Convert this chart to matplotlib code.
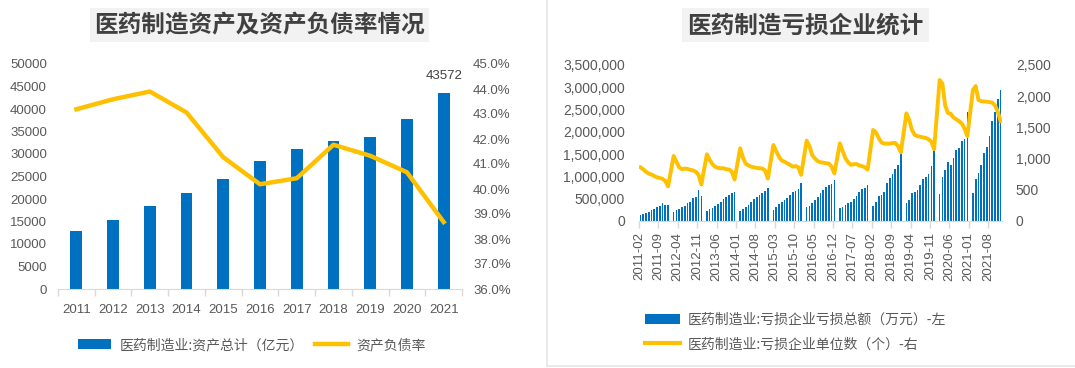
import numpy as np
import matplotlib
matplotlib.use("Agg")
import matplotlib.pyplot as plt
import pandas as pd
from matplotlib.lines import Line2D
from matplotlib.patches import Patch, Rectangle
from matplotlib.ticker import FuncFormatter, MultipleLocator

plt.rcParams['font.family'] = ['Liberation Sans', 'Noto Sans CJK SC', 'DejaVu Sans']

# ---------------- left chart data ----------------
years = ['2011', '2012', '2013', '2014', '2015', '2016', '2017', '2018', '2019', '2020', '2021']
total_assets = [12940, 15390, 18490, 21300, 24400, 28470, 31140, 32910, 33800, 37720, 43572]
debt_ratio = [43.19, 43.59, 43.90, 43.06, 41.27, 40.19, 40.43, 41.77, 41.33, 40.67, 38.68]

# ---------------- right chart data (Feb..Dec each year, Jan not reported) ----------------
loss_total_2011 = [130000, 155000, 185000, 210000, 245000, 275000, 310000, 340000, 395000, 370000, 350000]
loss_total_2012 = [208000, 245000, 275000, 320000, 342000, 394000, 431000, 506000, 543000, 700000, 558000]
loss_total_2013 = [225000, 260000, 290000, 335000, 390000, 435000, 490000, 540000, 590000, 635000, 645000]
loss_total_2014 = [231000, 268000, 312000, 350000, 417000, 484000, 543000, 580000, 632000, 677000, 737000]
loss_total_2015 = [245000, 312000, 372000, 417000, 469000, 521000, 580000, 640000, 684000, 729000, 848000]
loss_total_2016 = [306000, 343000, 410000, 470000, 545000, 619000, 694000, 754000, 799000, 821000, 918000]
loss_total_2017 = [298000, 312000, 365000, 409000, 432000, 498000, 558000, 640000, 707000, 737000, 818000]
loss_total_2018 = [335000, 424000, 551000, 580000, 640000, 856000, 975000, 1049000, 1161000, 1265000, 1495000]
loss_total_2019 = [409000, 469000, 618000, 655000, 692000, 818000, 952000, 990000, 1064000, 1242000, 1585000]
loss_total_2020 = [603000, 990000, 1153000, 1317000, 1265000, 1414000, 1585000, 1644000, 1786000, 1845000, 2440000]
loss_total_2021 = [620000, 933000, 1067000, 1254000, 1515000, 1664000, 1903000, 2246000, 2448000, 2746000, 2948000]

loss_count_2011 = [860, 830, 790, 760, 745, 720, 700, 690, 675, 640, 555]
loss_count_2012 = [1042, 950, 860, 830, 840, 835, 820, 810, 790, 740, 585]
loss_count_2013 = [1069, 980, 910, 870, 850, 845, 845, 830, 825, 790, 665]
loss_count_2014 = [1165, 1020, 920, 890, 870, 860, 850, 845, 840, 810, 680]
loss_count_2015 = [1218, 1120, 1030, 970, 950, 924, 900, 870, 881, 860, 740]
loss_count_2016 = [1287, 1200, 1057, 1000, 960, 940, 935, 925, 920, 870, 764]
loss_count_2017 = [1244, 1120, 1004, 940, 900, 910, 913, 890, 880, 860, 825]
loss_count_2018 = [1458, 1420, 1330, 1260, 1240, 1240, 1240, 1250, 1250, 1200, 1100]
loss_count_2019 = [1725, 1620, 1460, 1380, 1360, 1350, 1340, 1330, 1310, 1270, 1150]
loss_count_2020 = [2260, 2200, 1850, 1730, 1720, 1660, 1630, 1600, 1560, 1480, 1360]
loss_count_2021 = [2099, 2163, 1940, 1920, 1915, 1912, 1905, 1895, 1850, 1750, 1600]

loss_total_years = [loss_total_2011, loss_total_2012, loss_total_2013, loss_total_2014,
                    loss_total_2015, loss_total_2016, loss_total_2017, loss_total_2018,
                    loss_total_2019, loss_total_2020, loss_total_2021]
loss_count_years = [loss_count_2011, loss_count_2012, loss_count_2013, loss_count_2014,
                    loss_count_2015, loss_count_2016, loss_count_2017, loss_count_2018,
                    loss_count_2019, loss_count_2020, loss_count_2021]

months = list(pd.date_range('2011-02-01', '2021-12-01', freq='MS').strftime('%Y-%m'))

def assemble(per_year):
    out = []
    for k, vals in enumerate(per_year):
        if k > 0:
            out.append(np.nan)  # January gap
        out.extend(vals)
    return np.array(out, dtype=float)

loss_total = assemble(loss_total_years)
loss_count = assemble(loss_count_years)

BLUE = '#0070C0'
GOLD = '#FFC000'
TXT = '#595959'
AXC = '#D9D9D9'

W, H = 1075, 368
fig = plt.figure(figsize=(W / 100, H / 100), dpi=100)
fig.patch.set_facecolor('white')

def fx(px):
    return px / W

def fy(py):
    return 1 - py / H

# ---------- titles ----------
for (x0, x1, txt) in [(90, 429, '医药制造资产及资产负债率情况'), (682, 929, '医药制造亏损企业统计')]:
    fig.patches.append(Rectangle((fx(x0), fy(42)), fx(x1 - x0), 34 / H, transform=fig.transFigure,
                                 facecolor='#F2F2F2', edgecolor='none', zorder=0))
    fig.text(fx((x0 + x1) / 2), fy(25), txt, ha='center', va='center', fontsize=17,
             fontweight='bold', color='#404040', family=['Noto Sans CJK SC'])

# right panel frame
fig.add_artist(Line2D([fx(547), fx(547)], [fy(366), 1], color='#E6E6E6', lw=1.2, transform=fig.transFigure))
fig.add_artist(Line2D([fx(547), 1], [fy(366), fy(366)], color='#E6E6E6', lw=1.2, transform=fig.transFigure))

# ---------- left chart ----------
ax1 = fig.add_axes([fx(58), fy(289), fx(462 - 58), 225 / H])
x = np.arange(len(years))
ax1.bar(x, total_assets, width=0.32, color=BLUE, zorder=2)
ax1.set_xlim(-0.5, len(years) - 0.5)
ax1.set_ylim(0, 50000)
ax1.yaxis.set_major_locator(MultipleLocator(5000))
ax1.set_xticks(x)
ax1.set_xticklabels(years)
ax1.set_xticks(np.arange(-0.5, len(years), 1.0), minor=True)
ax1.tick_params(axis='x', which='major', length=0, pad=11, labelsize=9.5, labelcolor=TXT)
ax1.tick_params(axis='x', which='minor', length=5, color=AXC, width=1)
ax1.tick_params(axis='y', length=0, pad=8, labelsize=9.5, labelcolor=TXT)
for s in ['top', 'right', 'left']:
    ax1.spines[s].set_visible(False)
ax1.spines['bottom'].set_color(AXC)
ax1.annotate('43572', xy=(x[-1], total_assets[-1]), xytext=(0, 8), textcoords='offset points',
             ha='center', va='bottom', fontsize=9.5, color='#404040')

ax1b = ax1.twinx()
ax1b.plot(x, debt_ratio, color=GOLD, lw=3.2, zorder=3)
ax1b.set_ylim(36, 45)
ax1b.yaxis.set_major_locator(MultipleLocator(1))
ax1b.yaxis.set_major_formatter(FuncFormatter(lambda v, p: f'{v:.1f}%'))
ax1b.tick_params(axis='y', length=0, pad=8, labelsize=9.5, labelcolor=TXT)
for s in ['top', 'right', 'left', 'bottom']:
    ax1b.spines[s].set_visible(False)

h1 = [Patch(facecolor=BLUE, edgecolor='none'), Line2D([], [], color=GOLD, lw=3.2)]
l1 = ['医药制造业:资产总计（亿元）', '资产负债率']
fig.legend(h1, l1, loc='center left', bbox_to_anchor=(fx(78), fy(345)), ncol=2, frameon=False,
           fontsize=10, handlelength=2.4, handletextpad=0.6, columnspacing=0.8,
           borderpad=0, borderaxespad=0, labelcolor=TXT, prop={'family': ['Noto Sans CJK SC'], 'size': 10})

# ---------- right chart ----------
ax2 = fig.add_axes([fx(639), fy(221), fx(1002 - 639), 156 / H])
idx = np.arange(len(months))
valid_b = ~np.isnan(loss_total)
ax2.bar(idx[valid_b], loss_total[valid_b], width=0.6, color=BLUE, zorder=2, linewidth=0)
ax2.set_xlim(-0.5, len(months) - 0.5)
ax2.set_ylim(0, 3500000)
ax2.yaxis.set_major_locator(MultipleLocator(500000))
ax2.yaxis.set_major_formatter(FuncFormatter(lambda v, p: f'{v:,.0f}'))
tick_idx = np.arange(0, len(months), 7)
ax2.set_xticks(tick_idx - 0.5)
ax2.set_xticklabels([months[i] for i in tick_idx], rotation=90)
ax2.tick_params(axis='x', length=5, color=AXC, width=1, pad=3, labelsize=9.5, labelcolor=TXT)
ax2.tick_params(axis='y', length=0, pad=10, labelsize=10, labelcolor=TXT)
for s in ['top', 'right', 'left']:
    ax2.spines[s].set_visible(False)
ax2.spines['bottom'].set_color(AXC)

ax2b = ax2.twinx()
valid_l = ~np.isnan(loss_count)
ax2b.plot(idx[valid_l], loss_count[valid_l], color=GOLD, lw=2.8, zorder=3)
ax2b.set_ylim(0, 2500)
ax2b.yaxis.set_major_locator(MultipleLocator(500))
ax2b.yaxis.set_major_formatter(FuncFormatter(lambda v, p: f'{v:,.0f}'))
ax2b.tick_params(axis='y', length=0, pad=10, labelsize=10, labelcolor=TXT)
for s in ['top', 'right', 'left', 'bottom']:
    ax2b.spines[s].set_visible(False)

h2 = [Patch(facecolor=BLUE, edgecolor='none'), Line2D([], [], color=GOLD, lw=3)]
l2 = ['医药制造业:亏损企业亏损总额（万元）-左', '医药制造业:亏损企业单位数（个）-右']
fig.legend(h2, l2, loc='center left', bbox_to_anchor=(fx(645), fy(332)), ncol=1, frameon=False,
           handlelength=2.5, handletextpad=0.6, labelspacing=0.75,
           borderpad=0, borderaxespad=0, labelcolor=TXT, prop={'family': ['Noto Sans CJK SC'], 'size': 10})

fig.savefig('out.png', dpi=100, facecolor='white')
